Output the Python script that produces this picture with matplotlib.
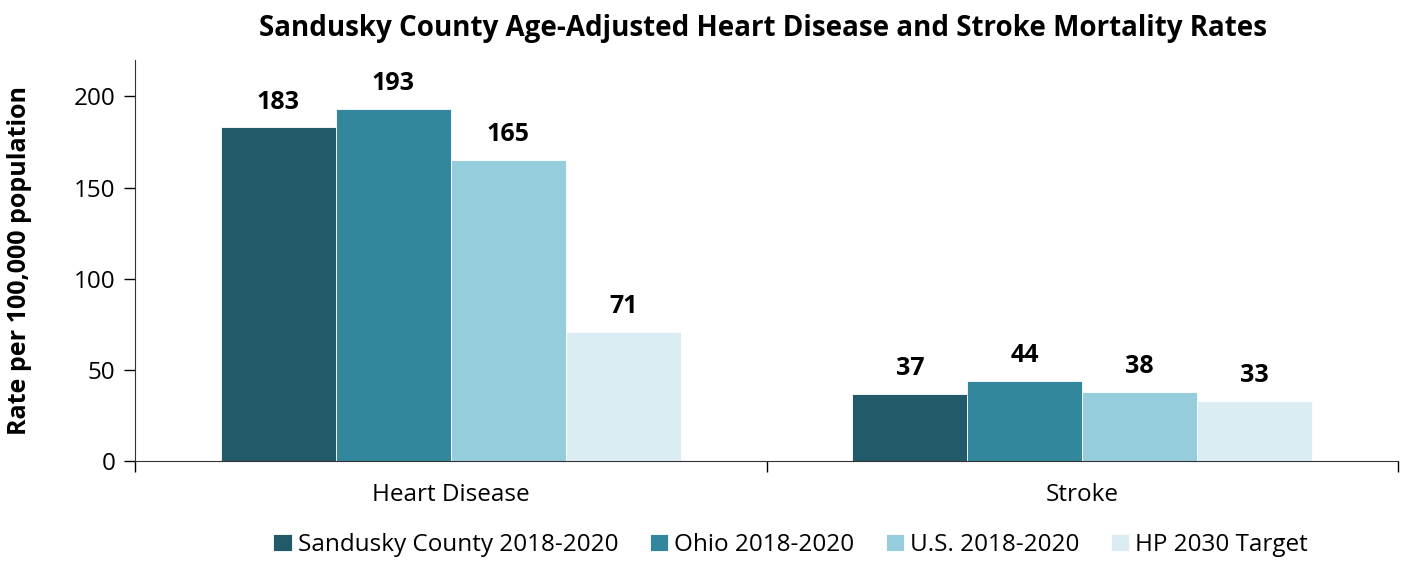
import numpy as np
import matplotlib.pyplot as plt

plt.rcParams['font.family'] = ['Open Sans', 'DejaVu Sans']

categories = ['Heart Disease', 'Stroke']
series = ['Sandusky County 2018-2020', 'Ohio 2018-2020', 'U.S. 2018-2020', 'HP 2030 Target']
values = [
    [183, 37],
    [193, 44],
    [165, 38],
    [71, 33],
]
colors = ['#235a69', '#33879c', '#96cddc', '#dbedf3']

fig = plt.figure(figsize=(14.07, 5.63), dpi=100)
ax = fig.add_axes([135 / 1407, (563 - 461) / 563, (1398 - 135) / 1407, (461 - 60) / 563])

x = np.arange(len(categories))
width = 0.182
for i, (name, vals) in enumerate(zip(series, values)):
    pos = x + (i - 1.5) * width
    bars = ax.bar(pos, vals, width, color=colors[i], label=name,
                  edgecolor='white', linewidth=0.6)
    for b, v in zip(bars, vals):
        ax.text(b.get_x() + b.get_width() / 2, v + 7, str(v), ha='center', va='bottom',
                fontsize=18, fontweight='bold')

ax.set_xlim(-0.5, 1.5)
ax.set_ylim(0, 220)
ax.set_yticks([0, 50, 100, 150, 200])
ax.tick_params(axis='y', labelsize=17.5, length=8, width=1, direction='out', pad=6)

# category labels sit between boundary ticks
ax.set_xticks([-0.5, 0.5, 1.5])
ax.set_xticklabels([])
ax.tick_params(axis='x', length=8, width=1, direction='out')
for xi, name in zip(x, categories):
    ax.text(xi, -12, name, ha='center', va='top', fontsize=17.5,
            transform=ax.transData)

for s in ['top', 'right']:
    ax.spines[s].set_visible(False)
ax.spines['left'].set_color('#333333')
ax.spines['bottom'].set_color('#333333')

ax.set_ylabel('Rate per 100,000 population', fontsize=18, fontweight='bold', labelpad=30)
fig.suptitle('Sandusky County Age-Adjusted Heart Disease and Stroke Mortality Rates',
             fontsize=20, fontweight='bold', x=0.542, y=0.975)

fig.legend(loc='lower center', bbox_to_anchor=(0.562, -0.028), ncol=4, frameon=False,
           fontsize=17.5, handlelength=0.75, handleheight=0.75, handletextpad=0.25,
           columnspacing=1.3)

fig.savefig('out.png', dpi=100)
